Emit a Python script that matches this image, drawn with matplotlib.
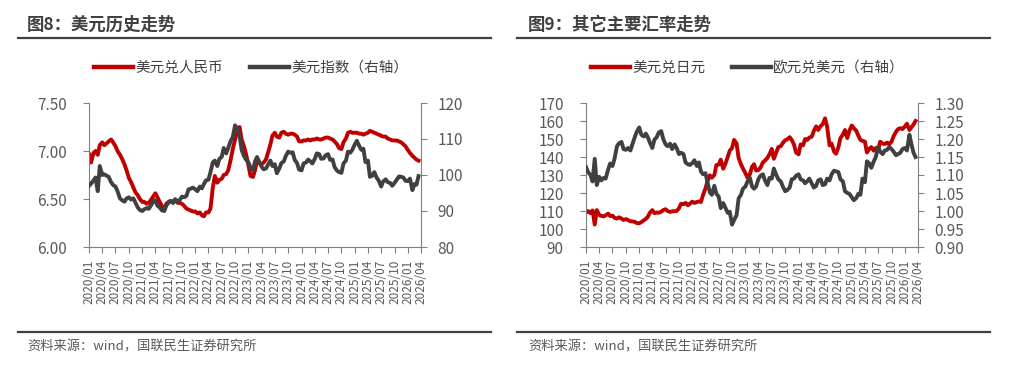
import numpy as np
import pandas as pd
import matplotlib
matplotlib.use("Agg")
import matplotlib.pyplot as plt
from matplotlib.lines import Line2D

plt.rcParams['font.family'] = ['Noto Sans CJK SC', 'DejaVu Sans']

# ---- data (semi-monthly readings, 2020/01 - 2026/03) ----
usdcny = [
    6.97, 6.88, 6.98, 7.00, 6.96, 7.06, 7.09, 7.06, 7.08, 7.10, 7.12, 7.09,
    7.05, 7.00, 6.96, 6.92, 6.86, 6.80, 6.72, 6.68, 6.62, 6.57, 6.54, 6.50,
    6.47, 6.47, 6.45, 6.46, 6.49, 6.52, 6.56, 6.52, 6.47, 6.43, 6.38, 6.45,
    6.47, 6.48, 6.47, 6.49, 6.46, 6.46, 6.45, 6.43, 6.40, 6.39, 6.38, 6.37,
    6.37, 6.35, 6.36, 6.33, 6.32, 6.36, 6.36, 6.40, 6.62, 6.74, 6.67, 6.70,
    6.71, 6.75, 6.76, 6.80, 6.91, 7.02, 7.12, 7.20, 7.25, 7.12, 7.05, 6.97,
    6.85, 6.74, 6.73, 6.80, 6.90, 6.88, 6.86, 6.88, 6.91, 6.98, 7.07, 7.16,
    7.19, 7.15, 7.14, 7.19, 7.20, 7.18, 7.17, 7.18, 7.18, 7.17, 7.15, 7.10,
    7.10, 7.11, 7.11, 7.12, 7.11, 7.12, 7.12, 7.13, 7.12, 7.12, 7.13, 7.14,
    7.14, 7.13, 7.12, 7.10, 7.07, 7.03, 7.02, 7.09, 7.13, 7.19, 7.20, 7.19,
    7.19, 7.19, 7.18, 7.18, 7.17, 7.18, 7.19, 7.21, 7.20, 7.19, 7.18, 7.17,
    7.16, 7.15, 7.15, 7.13, 7.12, 7.11, 7.11, 7.11, 7.10, 7.09, 7.07, 7.05,
    7.01, 6.98, 6.95, 6.93, 6.91, 6.90,
]
dxy = [
    97.0, 97.6, 98.5, 99.3, 95.5, 102.5, 100.0, 100.2, 99.8, 99.5, 98.0, 97.2,
    96.8, 95.5, 93.5, 93.0, 92.6, 93.5, 93.8, 93.2, 93.5, 92.3, 91.0, 90.3,
    90.0, 90.5, 90.8, 90.6, 91.5, 92.5, 93.0, 91.5, 91.0, 90.2, 90.0, 91.5,
    92.3, 92.8, 92.2, 93.3, 92.7, 93.0, 94.0, 93.8, 94.2, 96.0, 96.2, 96.5,
    96.0, 95.5, 96.8, 96.3, 97.5, 98.5, 98.7, 100.8, 103.5, 104.0, 102.5, 104.5,
    105.0, 107.5, 106.0, 107.5, 109.5, 110.5, 113.8, 113.0, 111.0, 107.0, 105.3, 104.3,
    103.5, 102.0, 101.3, 103.8, 105.0, 103.8, 102.3, 101.6, 101.8, 102.8, 104.0, 102.5,
    103.0, 100.5, 101.8, 103.3, 103.8, 105.3, 106.5, 106.2, 106.3, 104.2, 103.3, 101.5,
    101.3, 103.2, 103.5, 104.3, 103.8, 103.2, 104.5, 106.0, 105.8, 104.5, 104.6, 105.5,
    105.8, 104.2, 104.3, 102.2, 101.2, 100.8, 100.6, 103.2, 104.0, 106.5, 106.2, 107.0,
    108.5, 109.5, 108.0, 107.0, 107.3, 103.6, 104.0, 99.5, 99.8, 100.8, 99.2, 98.4,
    96.8, 98.2, 98.8, 98.0, 97.8, 97.0, 97.8, 98.6, 99.6, 99.5, 99.3, 98.4,
    98.3, 99.0, 95.8, 97.5, 97.3, 99.7,
]
usdjpy = [
    109.0, 110.0, 108.8, 110.3, 102.5, 110.5, 107.8, 107.3, 107.0, 107.6, 108.5, 107.2,
    107.4, 106.2, 105.8, 106.5, 105.8, 105.0, 105.5, 105.0, 104.3, 104.2, 104.0, 103.3,
    103.2, 103.8, 104.8, 105.6, 106.8, 109.0, 110.5, 108.8, 109.2, 109.0, 109.6, 110.5,
    111.0, 110.0, 109.5, 109.8, 109.9, 110.0, 111.5, 114.0, 113.8, 114.5, 113.2, 114.0,
    115.2, 114.5, 115.0, 115.3, 115.0, 118.8, 122.5, 126.5, 129.8, 128.5, 130.0, 135.5,
    135.8, 138.5, 133.5, 136.0, 140.0, 143.5, 145.0, 149.5, 147.5, 139.5, 136.0, 133.5,
    131.0, 128.5, 130.5, 134.5, 136.0, 132.5, 132.8, 134.2, 137.0, 138.0, 139.5, 141.5,
    144.5, 139.0, 142.5, 145.5, 146.0, 147.8, 149.3, 149.8, 151.0, 149.5, 146.8, 142.5,
    141.5, 147.0, 146.5, 150.0, 149.5, 150.8, 151.3, 154.5, 157.0, 155.0, 157.2, 158.2,
    161.5, 157.0, 146.5, 147.5, 143.0, 141.8, 145.5, 150.5, 152.5, 155.0, 150.5, 154.5,
    157.5, 156.0, 154.5, 151.8, 149.5, 149.0, 148.5, 142.5, 144.5, 145.5, 143.5, 145.0,
    144.0, 148.5, 147.5, 147.2, 148.0, 147.0, 148.5, 151.5, 154.0, 155.5, 156.0, 155.5,
    157.0, 158.5, 155.0, 156.5, 158.0, 160.0,
]
eurusd = [
    1.122, 1.108, 1.100, 1.082, 1.145, 1.072, 1.095, 1.085, 1.092, 1.090, 1.115, 1.132,
    1.125, 1.145, 1.180, 1.188, 1.192, 1.172, 1.170, 1.175, 1.168, 1.185, 1.205, 1.220,
    1.232, 1.212, 1.207, 1.215, 1.205, 1.190, 1.175, 1.198, 1.205, 1.218, 1.222, 1.200,
    1.185, 1.180, 1.187, 1.172, 1.185, 1.175, 1.158, 1.162, 1.158, 1.135, 1.130, 1.128,
    1.133, 1.141, 1.125, 1.135, 1.110, 1.102, 1.105, 1.080, 1.052, 1.045, 1.070, 1.048,
    1.040, 1.008, 1.022, 1.010, 0.995, 0.998, 0.962, 0.975, 0.988, 1.035, 1.045, 1.062,
    1.068, 1.082, 1.092, 1.068, 1.062, 1.068, 1.090, 1.098, 1.102, 1.085, 1.072, 1.092,
    1.090, 1.118, 1.100, 1.088, 1.082, 1.068, 1.055, 1.058, 1.065, 1.088, 1.090, 1.098,
    1.102, 1.088, 1.085, 1.077, 1.083, 1.090, 1.076, 1.065, 1.070, 1.085, 1.088, 1.072,
    1.074, 1.090, 1.085, 1.102, 1.112, 1.110, 1.108, 1.088, 1.082, 1.055, 1.050, 1.048,
    1.038, 1.030, 1.036, 1.048, 1.045, 1.090, 1.080, 1.138, 1.132, 1.120, 1.138, 1.150,
    1.178, 1.165, 1.158, 1.168, 1.170, 1.178, 1.172, 1.165, 1.155, 1.158, 1.162, 1.172,
    1.175, 1.168, 1.212, 1.185, 1.162, 1.150,
]
dates = pd.date_range("2020-01-01", periods=len(usdcny), freq="SMS")
tick_dates = pd.date_range("2020-01-01", "2026-04-01", freq="QS")
tick_labels = [d.strftime("%Y/%m") for d in tick_dates]

RED, DARK = "#C00000", "#404040"
SPINE, TXT = "#808080", "#595959"

fig = plt.figure(figsize=(10.22, 3.82), dpi=100)


def style(ax, side):
    for s in ["top", "left", "right", "bottom"]:
        ax.spines[s].set_visible(False)
    ax.spines[side].set_visible(True)
    ax.spines[side].set_color(SPINE)
    ax.tick_params(axis="y", colors=SPINE, labelcolor=TXT, labelsize=11,
                   length=4, direction="out", pad=12 if side == "left" else 8)


def panel(left, title, s1, s2, lim1, ticks1, fmt1, lim2, ticks2, fmt2, names, tx, lx):
    ax = fig.add_axes([left, 1 - 247 / 382, 332 / 1022, 144 / 382])
    ax.plot(dates, s1, color=RED, lw=2.8)
    ax.set_ylim(*lim1)
    ax.set_yticks(ticks1)
    ax.set_yticklabels([fmt1.format(v) for v in ticks1])
    style(ax, "left")
    ax.spines["bottom"].set_visible(True)
    ax.spines["bottom"].set_color(SPINE)
    ax.set_xlim(tick_dates[0], tick_dates[-1])
    ax.set_xticks(tick_dates)
    ax.set_xticklabels(tick_labels, rotation=90, fontsize=8.5, color=TXT)
    ax.tick_params(axis="x", colors=SPINE, labelcolor=TXT, length=4, pad=5)

    ax2 = ax.twinx()
    ax2.plot(dates, s2, color=DARK, lw=2.8)
    ax2.set_ylim(*lim2)
    ax2.set_yticks(ticks2)
    ax2.set_yticklabels([fmt2.format(v) for v in ticks2])
    style(ax2, "right")

    # title, rules, legend, source
    fig.text(tx / 1022, 1 - 25 / 382, title, fontsize=12.5, fontweight="bold",
             color=DARK, va="center", ha="left")
    fig.add_artist(Line2D([lx / 1022, (lx + 473) / 1022], [1 - 37.5 / 382] * 2,
                          color=DARK, lw=1.6))
    fig.add_artist(Line2D([lx / 1022, (lx + 473) / 1022], [1 - 332 / 382] * 2,
                          color=DARK, lw=1.6))
    fig.text(tx / 1022, 1 - 347 / 382, "资料来源：wind，国联民生证券研究所",
             fontsize=9.5, color=TXT, va="center", ha="left")
    handles = [Line2D([], [], color=RED, lw=3.2), Line2D([], [], color=DARK, lw=3.2)]
    fig.legend(handles, names, loc="center",
               bbox_to_anchor=((left * 1022 + 162) / 1022, 1 - 68 / 382),
               ncol=2, frameon=False, fontsize=10.5, handlelength=2.7,
               handletextpad=0.15, columnspacing=1.8, labelcolor=DARK)
    return ax


panel(89 / 1022, "图8：美元历史走势", usdcny, dxy,
      (6.0, 7.5), [6.0, 6.5, 7.0, 7.5], "{:.2f}",
      (80, 120), [80, 90, 100, 110, 120], "{:.0f}",
      ["美元兑人民币", "美元指数（右轴）"], 27, 18)
panel(586 / 1022, "图9：其它主要汇率走势", usdjpy, eurusd,
      (90, 170), list(range(90, 171, 10)), "{:.0f}",
      (0.90, 1.30), [0.90, 0.95, 1.00, 1.05, 1.10, 1.15, 1.20, 1.25, 1.30], "{:.2f}",
      ["美元兑日元", "欧元兑美元（右轴）"], 528, 517)

fig.savefig("out.png", dpi=100)
